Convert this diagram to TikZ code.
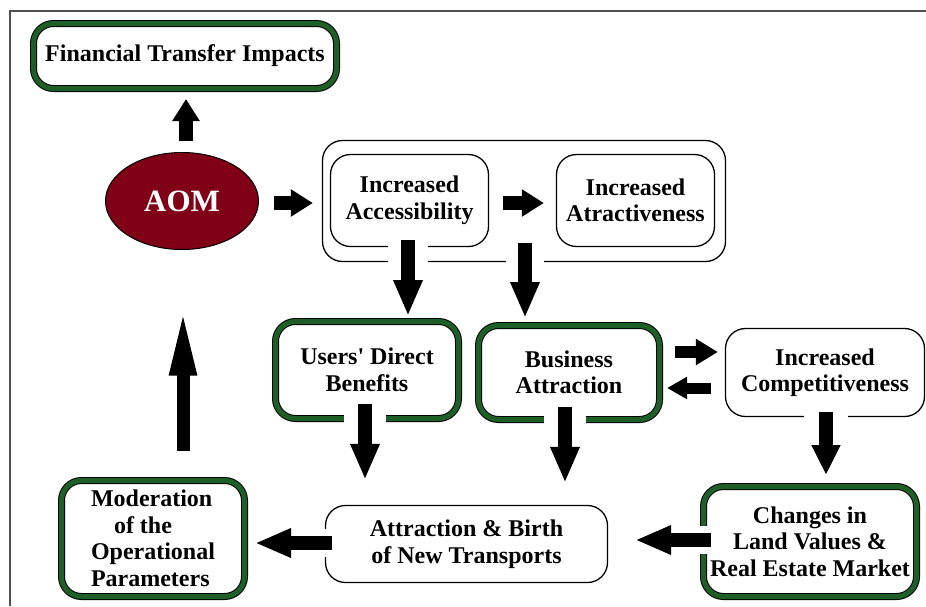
\documentclass[tikz,border=0pt]{standalone}
\usepackage{fontspec}
\setmainfont{Liberation Serif}
\usetikzlibrary{arrows.meta,calc,shapes.geometric}
\definecolor{dkgreen}{RGB}{30,95,40}
\definecolor{aomred}{RGB}{128,0,24}
\definecolor{framegray}{RGB}{80,80,80}
\begin{document}
\begin{tikzpicture}[x=1pt,y=-1pt,
  txt/.style={font=\rmfamily\bfseries\fontsize{24}{26.5}\selectfont, align=center, inner sep=0pt},
  gbox/.style={txt, draw=black, line width=1pt, double=dkgreen, double distance=5pt, rounded corners=20pt, fill=white},
  wbox/.style={txt, draw=black, line width=1.3pt, rounded corners=20pt, fill=white},
  halo/.style={preaction={draw=white, line width=#1, arrows=-}},
  arrS/.style={line width=14pt, -{Triangle[length=22pt,width=26pt]}},
  arrL/.style={line width=14pt, -{Triangle[length=36pt,width=27pt]}},
  arrU/.style={line width=13pt, -{Triangle[length=70pt,width=24pt]}}
]
\useasboundingbox (0,0) rectangle (926,606);
\fill[white] (0,0) rectangle (926,606);
\draw[framegray, line width=1.5pt] (10,606) -- (10,11) -- (926,11);

% nodes
\node[gbox, minimum width=303pt, minimum height=65pt] (fti) at (185,56) {Financial Transfer Impacts};
\node[ellipse, draw=black, line width=1pt, fill=aomred, minimum width=153pt, minimum height=97pt, inner sep=0pt,
      text=white, font=\rmfamily\bfseries\fontsize{31}{34}\selectfont] (aom) at (182,201) {AOM};
\node[wbox, minimum width=403pt, minimum height=121pt] (grp) at (524,201) {};
\node[wbox, minimum width=158pt, minimum height=92pt] (ia) at (409.5,200.5) {Increased\\Accessibility};
\node[wbox, minimum width=158pt, minimum height=92pt] (iat) at (635.5,200.5) {Increased\\Atractiveness};
\node[gbox, minimum width=183pt, minimum height=97pt] (udb) at (367,370) {Users\textquotesingle\ Direct\\Benefits};
\node[gbox, minimum width=181pt, minimum height=94pt] (ba) at (569,372.5) {Business\\Attraction};
\node[wbox, minimum width=199pt, minimum height=88pt] (ic) at (825,372.5) {Increased\\Competitiveness};
\node[wbox, minimum width=282pt, minimum height=77pt] (atb) at (466.5,544) {Attraction \& Birth\\of New Transports};
\node[gbox, minimum width=213pt, minimum height=110pt] (clv) at (810,541.5) {Changes in\\Land Values \&\\Real Estate Market};
\node[gbox, minimum width=183pt, minimum height=116pt, align=left] (mop) at (153,538.5) {Moderation\\\hspace*{23pt}of the\\Operational\\Parameters};

% connectors
\draw[arrS, halo=22pt] ($(aom.north)+(4,-11)$) -- ($(fti.south)+(1,10)$);
\draw[arrS, halo=22pt] ($(aom.east)+(14.5,2)$) -- ($(ia.west)+(-17,2.5)$);
\draw[arrS, halo=22pt] ($(ia.east)+(14,2.5)$) -- ($(iat.west)+(-12,2.5)$);
\draw[arrL, halo=40pt] ($(ia.south)+(-1.5,-7)$) -- ($(udb.north)+(41,-5)$);
\draw[arrL, halo=38pt] ($(grp.south)+(1,-19)$) -- ($(ba.north)+(-44,-7)$);
\draw[arrL, halo=42pt] ($(udb.south)+(-2,-15)$) -- ($(atb.north)+(-101.5,-25)$);
\draw[arrL, halo=42pt] ($(ba.south)+(-4,-13)$) -- ($(atb.north)+(98.5,-22)$);
\draw[line width=12pt, -{Triangle[length=22pt,width=25pt]}] ($(ba.east)+(15,-20.5)$) -- ($(ic.west)+(-7,-20.5)$);
\draw[line width=11pt, -{Triangle[length=20pt,width=21pt]}] ($(ic.west)+(-14,15.5)$) -- ($(ba.east)+(7,15.5)$);
\draw[line width=14pt, -{Triangle[length=30pt,width=27pt]}, halo=44pt] ($(ic.south)+(1,-5)$) -- ($(clv.north)+(16,-11)$);
\draw[arrL, halo=28pt] ($(clv.west)+(8,-1.5)$) -- ($(atb.east)+(27,-4)$);
\draw[arrL, halo=28pt] ($(atb.west)+(7,-1)$) -- ($(mop.east)+(10,4.5)$);
\draw[arrU] ($(mop.north)+(30,-29)$) -- ($(aom.south)+(1,55.5)$);
\end{tikzpicture}
\end{document}
